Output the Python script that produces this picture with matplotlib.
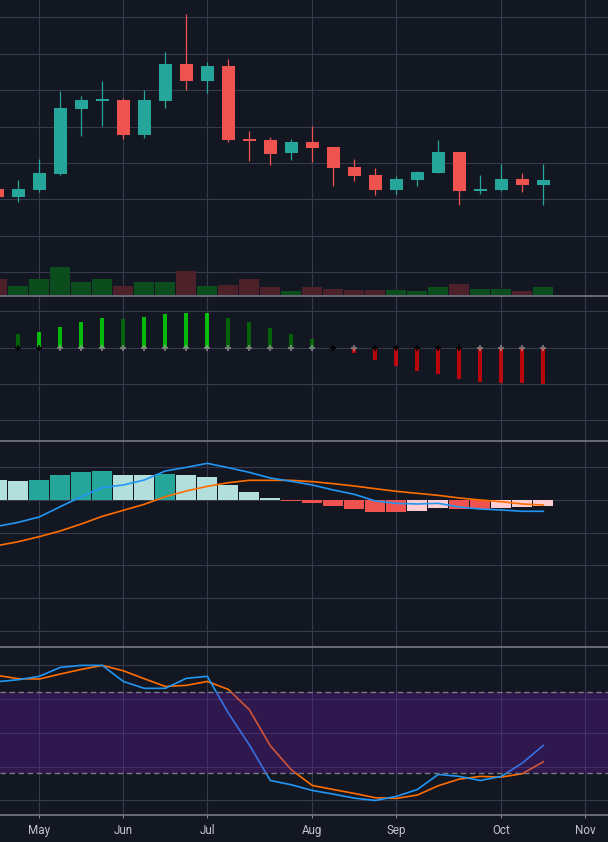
import numpy as np
import pandas as pd
import matplotlib
matplotlib.use('Agg')
import matplotlib.pyplot as plt
from matplotlib.lines import Line2D
from matplotlib.transforms import blended_transform_factory

plt.rcParams['font.family'] = ['Roboto', 'DejaVu Sans']

# ---------------- data ----------------
dates = pd.date_range('2024-04-22', periods=27, freq='W-MON')

opens  = [18.58, 18.14, 18.52, 19.40, 22.97, 23.43, 23.47, 21.54, 23.41, 25.45,
          24.51, 25.34, 21.32, 21.27, 20.55, 21.16, 20.88, 19.79, 19.35, 18.52,
          19.07, 19.46, 20.61, 18.47, 18.52, 19.13, 18.80]
highs  = [18.70, 19.07, 20.23, 23.97, 23.67, 24.51, 23.58, 24.02, 26.10, 28.19,
          25.56, 25.73, 21.76, 21.43, 21.32, 22.04, 20.88, 20.23, 19.73, 19.29,
          19.57, 21.27, 20.61, 19.35, 19.95, 19.46, 19.95]
lows   = [18.05, 17.86, 18.41, 19.35, 21.49, 22.04, 21.32, 21.38, 23.03, 24.02,
          23.85, 21.16, 20.12, 19.90, 20.17, 20.06, 18.74, 19.02, 18.25, 18.30,
          18.74, 19.46, 17.70, 18.30, 18.47, 18.41, 17.70]
closes = [18.14, 18.58, 19.46, 23.03, 23.47, 23.47, 21.54, 23.47, 25.45, 24.51,
          25.34, 21.27, 21.21, 20.50, 21.16, 20.83, 19.73, 19.29, 18.52, 19.13,
          19.51, 20.61, 18.47, 18.58, 19.13, 18.80, 19.07]
volumes = [3.2, 1.8, 3.2, 5.6, 2.6, 3.2, 1.8, 2.6, 2.6, 4.8, 1.8, 2.0, 3.2, 1.6,
           0.8, 1.6, 1.2, 1.0, 1.0, 1.0, 0.8, 1.6, 2.2, 1.2, 1.2, 0.8, 1.6]

# squeeze momentum (bars 1..26)
momentum = [0.39, 0.42, 0.56, 0.72, 0.81, 0.80, 0.86, 0.94, 0.95, 0.97, 0.83,
            0.70, 0.53, 0.37, 0.23, 0.00, -0.16, -0.35, -0.52, -0.65, -0.74,
            -0.87, -0.96, -0.98, -0.99, -1.01]
squeeze_on = [1, 1, 0, 0, 0, 0, 0, 0, 0, 0, 0, 0, 0, 0, 0, 1, 0, 1, 1, 1, 1, 1,
              0, 0, 0, 0]

# MACD
macd_line = [-0.403, -0.342, -0.260, -0.102, 0.051, 0.189, 0.230, 0.306, 0.444,
             0.500, 0.561, 0.495, 0.423, 0.337, 0.286, 0.230, 0.153, 0.087,
             -0.015, -0.051, -0.061, -0.051, -0.107, -0.138, -0.153, -0.173, -0.173]
signal_line = [-0.699, -0.638, -0.561, -0.474, -0.367, -0.250, -0.158, -0.066,
               0.051, 0.138, 0.209, 0.265, 0.301, 0.301, 0.301, 0.281, 0.250,
               0.214, 0.173, 0.133, 0.102, 0.071, 0.031, 0.000, -0.026, -0.061, -0.077]
macd_hist = [0.311, 0.291, 0.311, 0.383, 0.429, 0.444, 0.383, 0.383, 0.398, 0.383,
             0.352, 0.230, 0.122, 0.031, -0.015, -0.046, -0.092, -0.138, -0.184,
             -0.184, -0.168, -0.122, -0.138, -0.138, -0.122, -0.107, -0.092]

# Stochastic
stoch_k = [87.9, 89.4, 91.9, 98.5, 100.0, 100.0, 88.1, 83.0, 83.0, 90.4, 91.9,
           64.7, 41.2, 14.8, 11.6, 7.4, 4.7, 1.7, 0.0, 3.0, 8.1, 19.3, 17.8,
           14.8, 17.8, 27.7, 40.7]
stoch_d = [92.6, 90.1, 89.9, 93.6, 97.0, 100.0, 96.0, 90.1, 84.4, 85.2, 88.1,
           82.2, 67.2, 40.5, 22.7, 11.1, 8.1, 5.2, 2.0, 1.5, 4.0, 10.9, 15.8,
           17.8, 17.3, 19.8, 28.6]

# ---------------- style ----------------
W, H = 608, 842
BG = '#131722'
GRID = '#363a4a'
SEP = '#80838d'
UP = '#26a69a'
DN = '#ef5350'

n = len(dates)
x = np.arange(n)
XL = (2.7 / 21, (W + 2.7) / 21)

all_dates = pd.date_range(dates[0], periods=n + 4, freq='W-MON')
month_pos = [i for i in range(1, len(all_dates)) if all_dates[i].month != all_dates[i - 1].month]
month_lab = [all_dates[i].strftime('%b') for i in month_pos]

fig = plt.figure(figsize=(W / 100, H / 100), dpi=100, facecolor=BG)


def pane(top, bottom, yticks, ylim):
    ax = fig.add_axes([0, (H - bottom) / H, 1, (bottom - top) / H])
    ax.set_facecolor(BG)
    for s in ax.spines.values():
        s.set_visible(False)
    ax.set_xlim(*XL)
    ax.set_ylim(*ylim)
    ax.set_xticks(month_pos)
    ax.set_yticks(yticks)
    ax.tick_params(axis='both', which='both', length=0, labelbottom=False, labelleft=False)
    ax.grid(True, color=GRID, lw=0.8)
    ax.set_axisbelow(True)
    return ax


# ---- price pane ----
ax1 = pane(0, 295, np.arange(14, 29, 2), (12.75, 28.96))
body_w = 13 / 21
for i in range(n):
    o, h, l, c = opens[i], highs[i], lows[i], closes[i]
    col = UP if c >= o else DN
    ax1.vlines(x[i], l, h, color=col, lw=0.9, zorder=3)
    bot = min(o, c)
    hgt = max(abs(c - o), 0.07)
    ax1.bar(x[i], hgt, bottom=bot, width=body_w, color=col, lw=0, zorder=4)

axv = ax1.twinx()
axv.set_ylim(0, 295 / 5)
axv.set_yticks([])
for s in axv.spines.values():
    s.set_visible(False)
vcols = ['#0b4d1c' if closes[i] >= opens[i] else '#4d2129' for i in range(n)]
axv.bar(x, volumes, width=20 / 21, color=vcols, lw=0)

# ---- momentum pane ----
ax2 = pane(296.5, 441, [1, 0, -1, -2], (-2.581, 1.413))
mx = x[1:]
mcols = []
for j, v in enumerate(momentum):
    prev = momentum[j - 1] if j > 0 else v
    if v >= 0:
        mcols.append((0, 1, 0, 0.7) if v > prev else (0, 0.5, 0, 0.7))
    else:
        mcols.append((1, 0, 0, 0.7) if v < prev else (0.5, 0, 0, 0.7))
ax2.bar(mx, momentum, width=4 / 21, color=mcols, lw=0, zorder=3)
for j in range(len(mx)):
    col = '#000000' if squeeze_on[j] else '#a0a0a0'
    alpha = 0.85 if squeeze_on[j] else 0.65
    ax2.plot(mx[j], 0, marker='+', ms=4.6, mew=1.5, color=col, alpha=alpha, zorder=4)

# ---- MACD pane ----
ax3 = pane(441, 647, [0.5, 0, -0.5, -1, -1.5, -2], (-2.25, 0.903))
hcols = []
for i, v in enumerate(macd_hist):
    prev = macd_hist[i - 1] if i > 0 else v
    if v >= 0:
        hcols.append('#26a69a' if v > prev else '#b2dfdb')
    else:
        hcols.append('#ffcdd2' if v > prev else '#ef5350')
ax3.bar(x, macd_hist, width=20 / 21, color=hcols, lw=0, zorder=2)
ax3.plot(x, signal_line, color='#ff6d00', lw=1.2, zorder=3)
ax3.plot(x, macd_line, color='#2196f3', lw=1.2, zorder=4)

# ---- Stochastic pane ----
ax4 = pane(647, 814.5, [0, 25, 50, 75, 100], (-10.4, 113.6))
ax4.plot(x, stoch_d, color='#ff6d00', lw=1.2, zorder=3)
ax4.plot(x, stoch_k, color='#2196f3', lw=1.2, zorder=4)
ax4.axhspan(20, 80, color='#6d1bb5', alpha=0.3, lw=0, zorder=5)
for lvl in (20, 80):
    ax4.axhline(lvl, color='#787b86', lw=1.0, ls=(0, (4, 2.5)), zorder=6)
ax4.spines['bottom'].set_visible(True)
ax4.spines['bottom'].set_color(SEP)
ax4.spines['bottom'].set_linewidth(1.1)
ax4.tick_params(axis='x', length=2.3, width=0.8, color=SEP, direction='out')

trans = blended_transform_factory(ax4.transData, fig.transFigure)
for p, lab in zip(month_pos, month_lab):
    ax4.text(p, (H - 833.6) / H, lab, transform=trans, ha='center', va='baseline',
             fontsize=8.4, color='#c3c5cc', clip_on=False)

# pane separators
for yp in (295.8, 441, 647.3):
    fig.add_artist(Line2D([0, 1], [(H - yp) / H] * 2, transform=fig.transFigure,
                          color=SEP, lw=1.1))

fig.savefig('out.png', dpi=100, facecolor=BG)
